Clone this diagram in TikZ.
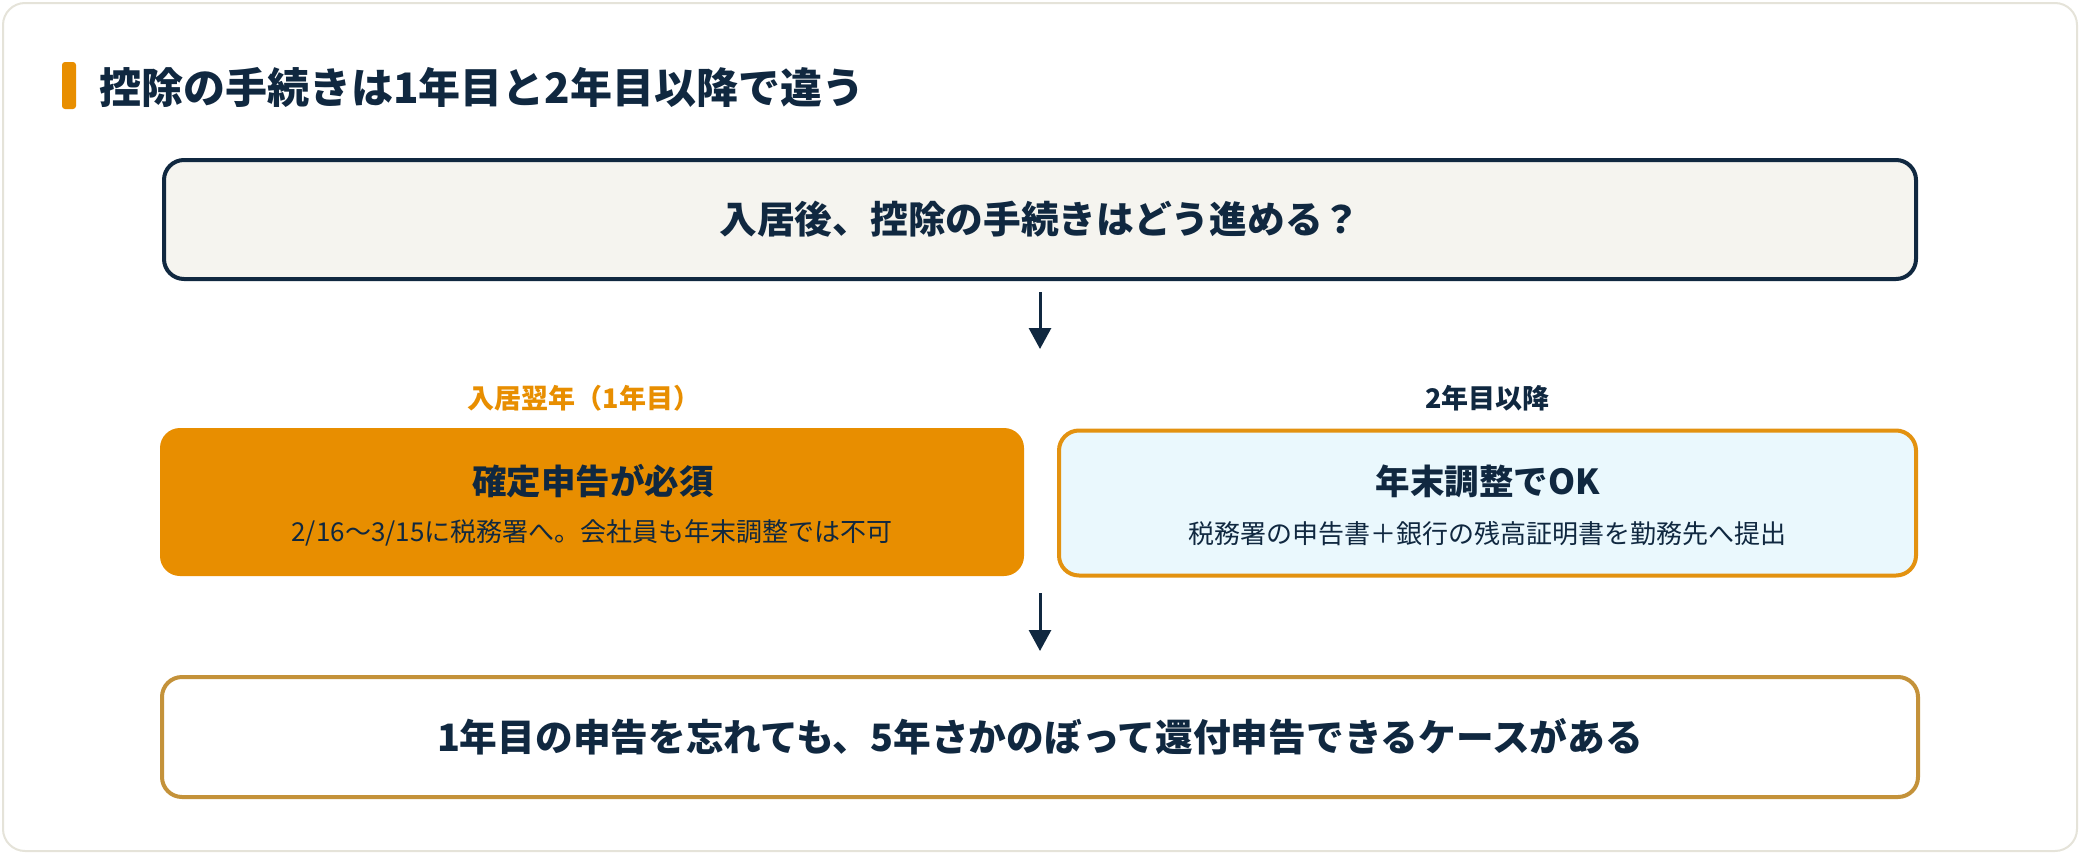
\documentclass[tikz,border=0pt]{standalone}
\usepackage{fontspec}
\setmainfont{Noto Sans CJK JP}
\usetikzlibrary{arrows.meta}
\definecolor{navy}{RGB}{16,40,64}
\definecolor{orangefill}{RGB}{232,142,0}
\definecolor{orangeline}{RGB}{227,146,16}
\definecolor{cyanfill}{RGB}{234,248,253}
\definecolor{goldline}{RGB}{196,146,58}
\definecolor{beigefill}{RGB}{245,244,239}
\definecolor{cardline}{RGB}{229,227,217}
\tikzset{
  box/.style={rounded corners=20pt, inner sep=0pt, outer sep=0pt},
  boxtitle/.style={inner sep=0pt, text=navy, font=\fontsize{34.5}{40}\selectfont\bfseries},
  boxsub/.style={inner sep=0pt, text=navy, font=\fontsize{26}{31}\selectfont},
  colhead/.style={inner sep=0pt, font=\fontsize{27}{32}\selectfont\bfseries},
  bigtext/.style={inner sep=0pt, text=navy, font=\fontsize{37.7}{44}\selectfont\bfseries},
  arr/.style={draw=navy, line width=3pt, -{Triangle[length=21pt,width=22pt]}},
}
\begin{document}
\begin{tikzpicture}[x=1pt,y=-1pt]
\useasboundingbox (0,0) rectangle (2080,854);
% card
\draw[cardline, line width=2pt, fill=white, rounded corners=22pt] (3,3) rectangle (2077,851);
% title
\fill[orangefill, rounded corners=3pt] (62,62) rectangle (76,109);
\node[anchor=west, inner sep=0pt, text=navy, font=\fontsize{42}{50}\selectfont\bfseries] (title) at (99,87) {控除の手続きは1年目と2年目以降で違う};
% top box
\node[box, draw=navy, line width=4pt, fill=beigefill, minimum width=1752pt, minimum height=119pt] (top) at (1040,219.5) {};
\node[bigtext] (toptext) at (top.center) {入居後、控除の手続きはどう進める？};
% column headers
\node[colhead, text=orangefill] (lhead) at (584,398) {入居翌年（1年目）};
\node[colhead, text=navy] (rhead) at (1487.5,398) {2年目以降};
% left box
\node[box, fill=orangefill, minimum width=864pt, minimum height=148pt] (left) at (592,502) {};
\node[boxtitle] (ltitle) at (593,481) {確定申告が必須};
\node[boxsub] (lsub) at (592,533) {2/16〜3/15に税務署へ。会社員も年末調整では不可};
% right box
\node[box, draw=orangeline, line width=4pt, fill=cyanfill, minimum width=857pt, minimum height=145pt] (right) at (1487.5,503) {};
\node[boxtitle] (rtitle) at (1488,481) {年末調整でOK};
\node[boxsub] (rsub) at (1487.5,534) {税務署の申告書＋銀行の残高証明書を勤務先へ提出};
% bottom box
\node[box, draw=goldline, line width=4pt, fill=white, minimum width=1756pt, minimum height=120pt] (bottom) at (1040,737) {};
\node[bigtext] (btext) at (bottom.center) {1年目の申告を忘れても、5年さかのぼって還付申告できるケースがある};
% arrows
\coordinate (split) at (1040,428);
\coordinate (join) at (1040,576);
\draw[arr, shorten <=13pt, shorten >=79pt] (top.south) -- (split);
\draw[arr, shorten <=17pt, shorten >=26pt] (join) -- (bottom.north);
\end{tikzpicture}
\end{document}
